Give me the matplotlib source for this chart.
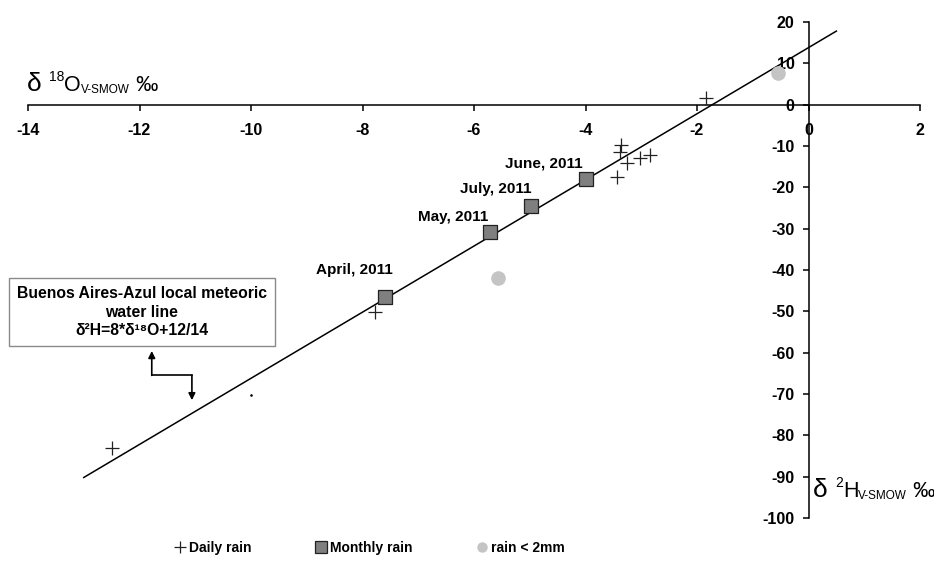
import matplotlib.pyplot as plt
from matplotlib.lines import Line2D
from matplotlib.transforms import IdentityTransform
import numpy as np

plt.rcParams['font.family'] = ['Liberation Sans', 'DejaVu Sans']
plt.rcParams['axes.unicode_minus'] = False

# daily rain samples (d18O, d2H)
daily_o = [-12.5, -7.77, -1.83, -3.36, -3.39, -3.25, -3.03, -2.84, -3.43]
daily_h = [-83.1, -50.2, 1.7, -9.7, -11.4, -14.2, -12.8, -12.1, -17.4]
odd_o = [-10.0]
odd_h = [-70.3]

# monthly composites
months = ['April, 2011', 'May, 2011', 'July, 2011', 'June, 2011']
month_o = [-7.59, -5.71, -4.97, -4.0]
month_h = [-46.6, -30.9, -24.4, -17.9]

# events under 2 mm
small_o = [-0.54, -5.57]
small_h = [7.7, -42.0]

# local meteoric water line
slope = 8
intercept = 13.8
line_x = np.array([-13.0, 0.5])

W, H = 934, 565
fig = plt.figure(figsize=(W / 100, H / 100), dpi=100)
ax = fig.add_axes([28 / W, 1 - 518 / H, 892 / W, 496 / H])

ax.plot(line_x, slope * line_x + intercept, color='black', lw=1.1, zorder=2)
ax.scatter(daily_o, daily_h, marker='+', s=90, color='#222222', linewidths=0.9, zorder=3)
ax.scatter(odd_o, odd_h, marker='.', s=3, color='black', zorder=3)
ax.scatter(month_o, month_h, marker='s', s=100, color='#7f7f7f',
           edgecolors='#222222', linewidths=0.9, zorder=4)
ax.scatter(small_o, small_h, marker='o', s=90, color='#c4c4c4', zorder=3)

# label offsets in points, one per month
label_off = [(-22, 20), (-27, 11), (-26, 12), (-30, 11)]
for name, xo, yh, off in zip(months, month_o, month_h, label_off):
    ax.annotate(name, (xo, yh), xytext=off, textcoords='offset points',
                ha='center', va='center', fontsize=11, fontweight='bold')

ax.set_xlim(-14, 2)
ax.set_ylim(-100, 20)
ax.set_xticks(np.arange(-14, 3, 2))
ax.set_yticks(np.arange(-100, 21, 10))
ax.spines['left'].set_position(('data', 0))
ax.spines['bottom'].set_position(('data', 0))
ax.spines['top'].set_visible(False)
ax.spines['right'].set_visible(False)
for s in ['left', 'bottom']:
    ax.spines[s].set_linewidth(1.1)
ax.tick_params(axis='both', direction='out', length=4, width=1.1, labelsize=11.5)
ax.tick_params(axis='x', pad=9)
ax.tick_params(axis='y', pad=6)
for lab in ax.get_xticklabels() + ax.get_yticklabels():
    lab.set_fontweight('bold')

renderer = fig.canvas.get_renderer()


def rich_label(x, y, parts):
    # x, y: pixels from top-left; parts: (text, size, baseline shift in px)
    for txt, size, dy in parts:
        t = fig.text(x, H - y + dy, txt, fontsize=size, ha='left', va='baseline',
                     transform=IdentityTransform())
        x += t.get_window_extent(renderer).width


rich_label(27, 91, [('δ ', 19, 0), ('18', 10, 10), ('O', 15.5, 0),
                    ('V-SMOW', 8.5, -2), (' ‰', 16, 0)])
rich_label(813, 497, [('δ ', 19, 0), ('2', 10, 10), ('H', 15.5, 0),
                      ('V-SMOW', 8.5, -2), (' ‰', 16, 0)])

# meteoric water line box with elbow arrow
ax.text(-11.96, -50.2, 'Buenos Aires-Azul local meteoric\nwater line\nδ²H=8*δ¹⁸O+12/14',
        ha='center', va='center', fontsize=11.3, fontweight='bold', linespacing=1.3,
        bbox=dict(boxstyle='square,pad=0.5', fc='white', ec='#8a8a8a', lw=1))
ax.annotate('', xy=(-11.78, -59.6), xytext=(-11.78, -65.5),
            arrowprops=dict(arrowstyle='-|>', color='black', lw=1.2,
                            mutation_scale=10, shrinkA=0, shrinkB=0))
ax.plot([-11.78, -11.06], [-65.5, -65.5], color='black', lw=1.2)
ax.annotate('', xy=(-11.06, -71.5), xytext=(-11.06, -65.5),
            arrowprops=dict(arrowstyle='-|>', color='black', lw=1.2,
                            mutation_scale=10, shrinkA=0, shrinkB=0))

handles = [
    Line2D([], [], marker='+', ls='none', color='#222222', markersize=9, mew=0.9),
    Line2D([], [], marker='s', ls='none', color='#7f7f7f', mec='#222222', markersize=8, mew=0.9),
    Line2D([], [], marker='o', ls='none', color='#c4c4c4', markersize=6.5),
]
fig.legend(handles, ['Daily rain', 'Monthly rain', 'rain < 2mm'],
           loc='center', bbox_to_anchor=(370 / W, 1 - 548 / H), ncol=3,
           frameon=False, handlelength=0.7, handletextpad=0.35,
           columnspacing=4.6, prop={'weight': 'bold', 'size': 10})

fig.savefig('out.png', dpi=100)
